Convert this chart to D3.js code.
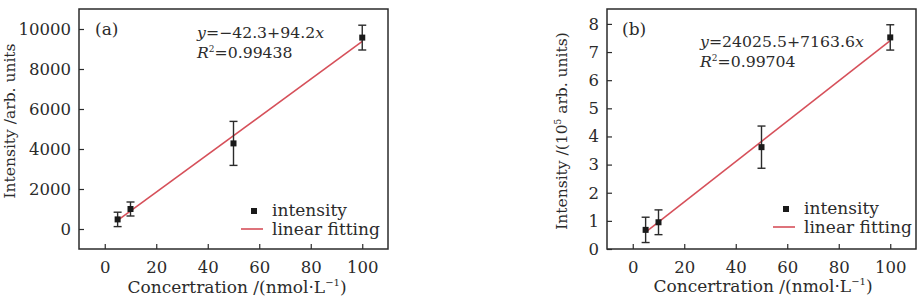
<!DOCTYPE html>
<html>
<head>
<meta charset="utf-8">
<script src="https://cdn.jsdelivr.net/npm/d3@7"></script>
<style>
  body { margin: 0; background: #fff; }
  svg { display: block; font-family: "DejaVu Serif", serif; }
</style>
</head>
<body>
<div id="chart"></div>
<script>
// Concentration values (nmol/L), shared by both panels.
const concentrations = [5, 10, 50, 100];

// Panel (a): intensity in arb. units.
const intensityA = [480, 1000, 4280, 9570];
const errorA = [360, 350, 1100, 620];
const fitA = { intercept: -42.3, slope: 94.2 };

// Panel (b): intensity in 10^5 arb. units.
const intensityB = [0.68, 0.95, 3.62, 7.52];
const errorB = [0.45, 0.44, 0.75, 0.45];
const fitB = { intercept: 24025.5, slope: 7163.6, scale: 1e5 };

// Tick labels.
const xTicks = [0, 20, 40, 60, 80, 100];
const yTicksA = [0, 2000, 4000, 6000, 8000, 10000];
const yTicksB = [0, 1, 2, 3, 4, 5, 6, 7, 8];

const width = 920;
const height = 304;
const ink = "#2b2b2b";
const red = "#d6505a";

const svg = d3
  .select("#chart")
  .append("svg")
  .attr("width", width)
  .attr("height", height);

/**
 * Draws one framed panel with error bars, fit line and axes.
 */
function drawPanel(opts) {
  const { left, right, top, bottom, yDomain, yTicks, values, errors, fit } = opts;

  const x = d3.scaleLinear().domain([-10, 110]).range([left, right]);
  const y = d3.scaleLinear().domain(yDomain).range([bottom, top]);

  const g = svg.append("g");

  // Bottom axis, ticks pointing inside.
  const xAxis = g
    .append("g")
    .attr("transform", `translate(0, ${bottom})`)
    .call(d3.axisBottom(x).tickValues(xTicks).tickSizeInner(-5).tickSizeOuter(0).tickPadding(12));
  xAxis.select(".domain").remove();
  xAxis.selectAll("line").attr("stroke", ink).attr("stroke-width", 1.2);
  xAxis.selectAll("text").attr("font-size", 16.5).attr("fill", ink).attr("font-family", "DejaVu Serif");

  // Left axis, ticks pointing inside.
  const yAxis = g
    .append("g")
    .attr("transform", `translate(${left}, 0)`)
    .call(d3.axisLeft(y).tickValues(yTicks).tickSizeInner(-5).tickSizeOuter(0).tickPadding(8).tickFormat(d3.format("d")));
  yAxis.select(".domain").remove();
  yAxis.selectAll("line").attr("stroke", ink).attr("stroke-width", 1.2);
  yAxis.selectAll("text").attr("font-size", 16.5).attr("fill", ink).attr("font-family", "DejaVu Serif");

  // Frame.
  g.append("rect")
    .attr("x", left)
    .attr("y", top)
    .attr("width", right - left)
    .attr("height", bottom - top)
    .attr("fill", "none")
    .attr("stroke", ink)
    .attr("stroke-width", 1.5);

  // Linear fit line.
  const fitY = (c) => (fit.intercept + fit.slope * c) / (fit.scale || 1);
  const xs = [concentrations[0], concentrations[concentrations.length - 1]];
  g.append("path")
    .attr("d", d3.line().x((c) => x(c)).y((c) => y(fitY(c)))(xs))
    .attr("fill", "none")
    .attr("stroke", red)
    .attr("stroke-width", 1.6);

  // Error bars.
  const bars = g.selectAll("g.err").data(concentrations).join("g").attr("class", "err");
  bars.append("line")
    .attr("x1", (c) => x(c)).attr("x2", (c) => x(c))
    .attr("y1", (c, i) => y(values[i] - errors[i]))
    .attr("y2", (c, i) => y(values[i] + errors[i]));
  bars.append("line")
    .attr("x1", (c) => x(c) - 4).attr("x2", (c) => x(c) + 4)
    .attr("y1", (c, i) => y(values[i] - errors[i]))
    .attr("y2", (c, i) => y(values[i] - errors[i]));
  bars.append("line")
    .attr("x1", (c) => x(c) - 4).attr("x2", (c) => x(c) + 4)
    .attr("y1", (c, i) => y(values[i] + errors[i]))
    .attr("y2", (c, i) => y(values[i] + errors[i]));
  bars.selectAll("line").attr("stroke", ink).attr("stroke-width", 1.4);

  // Data points.
  g.selectAll("rect.pt")
    .data(concentrations)
    .join("rect")
    .attr("class", "pt")
    .attr("x", (c) => x(c) - 3)
    .attr("y", (c, i) => y(values[i]) - 3)
    .attr("width", 6)
    .attr("height", 6)
    .attr("fill", "#1a1a1a");

  return g;
}

function addLegend(g, lx, ly) {
  g.append("rect").attr("x", lx + 7).attr("y", ly - 3).attr("width", 6).attr("height", 6).attr("fill", "#1a1a1a");
  g.append("text").attr("x", lx + 28).attr("y", ly + 5).attr("font-size", 17).attr("fill", ink).text("intensity");
  g.append("line")
    .attr("x1", lx - 3).attr("x2", lx + 19)
    .attr("y1", ly + 18).attr("y2", ly + 18)
    .attr("stroke", red).attr("stroke-width", 1.6);
  g.append("text").attr("x", lx + 28).attr("y", ly + 24).attr("font-size", 17).attr("fill", ink).text("linear fitting");
}

function addEquation(g, ex, ey, formula, r2) {
  const t1 = g.append("text").attr("x", ex).attr("y", ey).attr("font-size", 15.7).attr("fill", ink);
  t1.append("tspan").attr("font-style", "italic").text("y");
  t1.append("tspan").text(formula);
  t1.append("tspan").attr("font-style", "italic").text("x");
  const t2 = g.append("text").attr("x", ex).attr("y", ey + 20).attr("font-size", 15.7).attr("fill", ink);
  t2.append("tspan").attr("font-style", "italic").text("R");
  t2.append("tspan").attr("font-size", 9).attr("dy", -6).text("2");
  t2.append("tspan").attr("dy", 6).text("=" + r2);
}

function addXTitle(g, cx, cy) {
  const t = g.append("text").attr("x", cx).attr("y", cy).attr("font-size", 17)
    .attr("fill", ink).attr("text-anchor", "middle");
  t.append("tspan").text("Concertration /(nmol\u00b7L");
  t.append("tspan").attr("font-size", 10).attr("dy", -7).text("\u22121");
  t.append("tspan").attr("dy", 7).text(")");
}

// Panel (a).
const gA = drawPanel({
  left: 79, right: 388, top: 9, bottom: 249,
  yDomain: [-1000, 11000], yTicks: yTicksA,
  values: intensityA, errors: errorA, fit: fitA,
});
gA.append("text").attr("x", 95).attr("y", 35).attr("font-size", 17).attr("fill", ink).text("(a)");
addEquation(gA, 197, 38, "=\u221242.3+94.2", "0.99438");
addLegend(gA, 244, 211);
addXTitle(gA, 237, 293);
gA.append("text")
  .attr("transform", "translate(15, 121) rotate(-90)")
  .attr("text-anchor", "middle").attr("font-size", 15.5).attr("fill", ink)
  .text("Intensity /arb. units");

// Panel (b).
const gB = drawPanel({
  left: 607, right: 916, top: 9, bottom: 249,
  yDomain: [0, 8.53], yTicks: yTicksB,
  values: intensityB, errors: errorB, fit: fitB,
});
gB.append("text").attr("x", 622).attr("y", 35).attr("font-size", 17).attr("fill", ink).text("(b)");
addEquation(gB, 700, 47, "=24025.5+7163.6", "0.99704");
addLegend(gB, 776, 209);
addXTitle(gB, 763, 292);
const yb = gB.append("text")
  .attr("transform", "translate(567, 131) rotate(-90)")
  .attr("text-anchor", "middle").attr("font-size", 15.5).attr("fill", ink);
yb.append("tspan").text("Intensity /(10");
yb.append("tspan").attr("font-size", 9).attr("dy", -6).text("5");
yb.append("tspan").attr("dy", 6).text(" arb. units)");
</script>
</body>
</html>
